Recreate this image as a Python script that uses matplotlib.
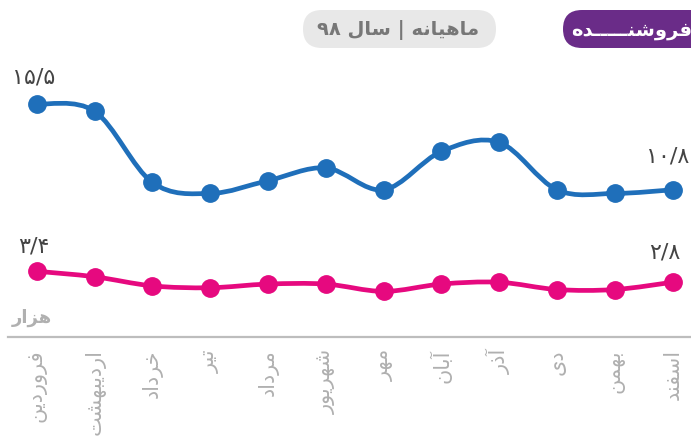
import matplotlib
matplotlib.use("Agg")
import matplotlib.pyplot as plt
from matplotlib.path import Path
from matplotlib.patches import PathPatch, FancyBboxPatch

# months of year 98 (Persian calendar)
months = ['فروردین', 'اردیبهشت', 'خرداد', 'تیر', 'مرداد', 'شهریور',
          'مهر', 'آبان', 'آذر', 'دی', 'بهمن', 'اسفند']
sales_blue = [15.5, 15.1, 11.2, 10.6, 11.3, 12.0, 10.8, 12.9, 13.4, 10.8, 10.6, 10.8]
sales_pink = [3.4, 3.1, 2.6, 2.5, 2.7, 2.7, 2.3, 2.7, 2.8, 2.4, 2.4, 2.8]
title_badge = 'فروشنـــــده'
title_period = 'ماهیانه | سال ۹۸'
unit_label = 'هزار'

BLUE = '#1f6fba'
PINK = '#e6097f'
PURPLE = '#6a2c88'

# --- minimal persian shaping (matplotlib has no RTL / joining support) ---
FORMS = {
    'ا': ('\uFE8D', '\uFE8E', None, None),
    'آ': ('\uFE81', '\uFE82', None, None),
    'ب': ('\uFE8F', '\uFE90', '\uFE91', '\uFE92'),
    'ت': ('\uFE95', '\uFE96', '\uFE97', '\uFE98'),
    'خ': ('\uFEA5', '\uFEA6', '\uFEA7', '\uFEA8'),
    'د': ('\uFEA9', '\uFEAA', None, None),
    'ذ': ('\uFEAB', '\uFEAC', None, None),
    'ر': ('\uFEAD', '\uFEAE', None, None),
    'ز': ('\uFEAF', '\uFEB0', None, None),
    'س': ('\uFEB1', '\uFEB2', '\uFEB3', '\uFEB4'),
    'ش': ('\uFEB5', '\uFEB6', '\uFEB7', '\uFEB8'),
    'ف': ('\uFED1', '\uFED2', '\uFED3', '\uFED4'),
    'ل': ('\uFEDD', '\uFEDE', '\uFEDF', '\uFEE0'),
    'م': ('\uFEE1', '\uFEE2', '\uFEE3', '\uFEE4'),
    'ن': ('\uFEE5', '\uFEE6', '\uFEE7', '\uFEE8'),
    'ه': ('\uFEE9', '\uFEEA', '\uFEEB', '\uFEEC'),
    'و': ('\uFEED', '\uFEEE', None, None),
    'ی': ('\uFBFC', '\uFBFD', '\uFBFE', '\uFBFF'),
}
TATWEEL = 'ـ'


def joins_left(ch):
    if ch == TATWEEL:
        return True
    return ch in FORMS and FORMS[ch][2] is not None


def shape(word):
    out = []
    for i, ch in enumerate(word):
        if ch not in FORMS:
            out.append(ch)
            continue
        prev = word[i - 1] if i > 0 else ''
        nxt = word[i + 1] if i < len(word) - 1 else ''
        jp = joins_left(prev)
        jn = joins_left(ch) and (nxt in FORMS or nxt == TATWEEL)
        iso, fin, ini, med = FORMS[ch]
        if jp and jn:
            out.append(med)
        elif jp:
            out.append(fin)
        elif jn:
            out.append(ini)
        else:
            out.append(iso)
    return ''.join(out)


def rtl(s):
    parts = []
    for tok in reversed(s.split(' ')):
        if any(c in FORMS or c == TATWEEL for c in tok):
            parts.append(shape(tok)[::-1])
        else:
            parts.append(tok)
    return ' '.join(parts)


def fa_num(v):
    digits = '۰۱۲۳۴۵۶۷۸۹'
    s = ('%.1f' % v)
    return ''.join(digits[int(c)] if c.isdigit() else '/' for c in s)


def smooth_path(xs, ys):
    # catmull-rom -> cubic bezier
    pts = list(zip(xs, ys))
    n = len(pts)
    verts = [pts[0]]
    codes = [Path.MOVETO]
    for i in range(n - 1):
        p0 = pts[i - 1] if i > 0 else pts[i]
        p1 = pts[i]
        p2 = pts[i + 1]
        p3 = pts[i + 2] if i + 2 < n else pts[i + 1]
        c1 = (p1[0] + (p2[0] - p0[0]) / 6, p1[1] + (p2[1] - p0[1]) / 6)
        c2 = (p2[0] - (p3[0] - p1[0]) / 6, p2[1] - (p3[1] - p1[1]) / 6)
        verts += [c1, c2, p2]
        codes += [Path.CURVE4] * 3
    return Path(verts, codes)


W, H = 691, 439
fig = plt.figure(figsize=(W / 100, H / 100), dpi=100)
ax = fig.add_axes([8 / W, (H - 338) / H, (W - 8) / W, (338 - 60) / H])
ax2 = ax.twinx()

x = list(range(len(months)))
ax.set_xlim(-0.5, 11.32)
ax.set_ylim(2.73, 17.97)
ax2.set_ylim(-0.2, 15.03)

for a, vals, col in [(ax, sales_blue, BLUE), (ax2, sales_pink, PINK)]:
    a.add_patch(PathPatch(smooth_path(x, vals), fill=False, edgecolor=col,
                          lw=3.4, capstyle='round', zorder=3))
    a.plot(x, vals, 'o', color=col, markersize=12.5, zorder=4)

for a in (ax, ax2):
    for sp in a.spines.values():
        sp.set_visible(False)
    a.set_yticks([])
ax.spines['bottom'].set_visible(True)
ax.spines['bottom'].set_color('#bdbdbd')
ax.spines['bottom'].set_linewidth(1.6)

ax.set_xticks(x)
ax.set_xticklabels([rtl(m) for m in months], rotation=90, va='top', ha='center',
                   color='#b0b0b0', fontsize=15)
ax.tick_params(axis='x', length=0, pad=8)

# value labels at first and last point
lab = dict(ha='center', va='center', color='#444444', fontsize=16,
           textcoords='offset pixels', annotation_clip=False)
ax.annotate(fa_num(sales_blue[0]), (x[0], sales_blue[0]), xytext=(-3, 28), **lab)
ax.annotate(fa_num(sales_blue[-1]), (x[-1], sales_blue[-1]), xytext=(-5, 34), **lab)
ax2.annotate(fa_num(sales_pink[0]), (x[0], sales_pink[0]), xytext=(-3, 26), **lab)
ax2.annotate(fa_num(sales_pink[-1]), (x[-1], sales_pink[-1]), xytext=(-8, 31), **lab)

# header overlay in pixel units
ov = fig.add_axes([0, 0, 1, 1], facecolor='none')
ov.set_xlim(0, W)
ov.set_ylim(H, 0)
ov.axis('off')
ov.add_patch(FancyBboxPatch((303, 11), 193, 38, boxstyle='round,pad=0,rounding_size=19',
                            facecolor='#e8e8e8', edgecolor='none'))
ov.add_patch(FancyBboxPatch((563, 11), 160, 38, boxstyle='round,pad=0,rounding_size=19',
                            facecolor=PURPLE, edgecolor='none'))
ov.text(398, 30, rtl(title_period), ha='center', va='center', color='#777777',
        fontsize=14, fontweight='bold')
ov.text(692, 30, rtl(title_badge), ha='right', va='center', color='white',
        fontsize=14, fontweight='bold')
ov.text(32, 318, rtl(unit_label), ha='center', va='center', color='#b0b0b0',
        fontsize=13, fontweight='bold')

fig.savefig('out.png', dpi=100)
